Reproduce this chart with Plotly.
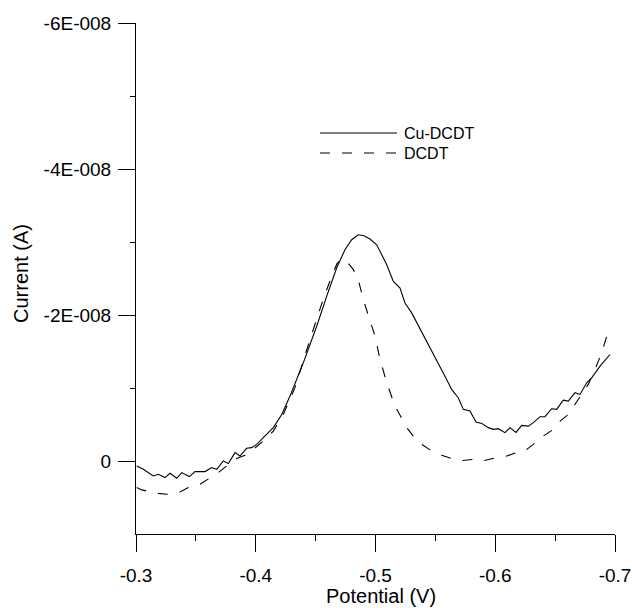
import plotly.graph_objects as go

# Potential (V) and current (units of 1E-008 A)
cu_potential = [-0.3006, -0.3061, -0.3144, -0.3186, -0.3242, -0.3284, -0.3340, -0.3382, -0.3445, -0.3493,
                -0.3576, -0.3632, -0.3674, -0.3729, -0.3771, -0.3827, -0.3868, -0.3924, -0.3966, -0.4008,
                -0.4063, -0.4147, -0.4217, -0.4286, -0.4397, -0.4439, -0.4509, -0.4592, -0.4676, -0.4745,
                -0.4801, -0.4856, -0.4904, -0.4954, -0.5010, -0.5094, -0.5149, -0.5205, -0.5246, -0.5302,
                -0.5399, -0.5497, -0.5580, -0.5636, -0.5691, -0.5733, -0.5789, -0.5839, -0.5887, -0.5942,
                -0.5984, -0.6025, -0.6081, -0.6123, -0.6173, -0.6221, -0.6276, -0.6318, -0.6374, -0.6415,
                -0.6471, -0.6513, -0.6568, -0.6610, -0.6666, -0.6708, -0.6764, -0.6805, -0.6875, -0.6958]
cu_current = [0.068, 0.113, 0.205, 0.182, 0.227, 0.168, 0.237, 0.159, 0.213, 0.145,
              0.145, 0.090, 0.113, 0.000, 0.036, -0.115, -0.068, -0.174, -0.183, -0.228,
              -0.320, -0.457, -0.638, -0.889, -1.345, -1.527, -1.846, -2.256, -2.648, -2.894,
              -3.031, -3.099, -3.085, -3.040, -2.962, -2.689, -2.461, -2.370, -2.165, -2.029,
              -1.732, -1.431, -1.162, -0.980, -0.867, -0.707, -0.684, -0.533, -0.515, -0.457,
              -0.433, -0.443, -0.388, -0.457, -0.392, -0.488, -0.478, -0.525, -0.607, -0.607,
              -0.716, -0.707, -0.834, -0.820, -0.935, -0.912, -1.072, -1.140, -1.299, -1.459]

dcdt_potential = [-0.3006, -0.3048, -0.3173, -0.3256, -0.3367, -0.3437, -0.3534, -0.3604, -0.3687, -0.3757,
                  -0.3841, -0.3910, -0.3980, -0.4063, -0.4147, -0.4230, -0.4328, -0.4453, -0.4562, -0.4634,
                  -0.4678, -0.4720, -0.4762, -0.4815, -0.4856, -0.4898, -0.4954, -0.4996, -0.5038, -0.5094,
                  -0.5163, -0.5219, -0.5261, -0.5316, -0.5386, -0.5469, -0.5553, -0.5636, -0.5720, -0.5817,
                  -0.5900, -0.6012, -0.6096, -0.6179, -0.6234, -0.6318, -0.6401, -0.6485, -0.6541, -0.6610,
                  -0.6652, -0.6722, -0.6777, -0.6833, -0.6889, -0.6931, -0.6958]
dcdt_current = [0.364, 0.396, 0.442, 0.455, 0.424, 0.364, 0.319, 0.241, 0.159, 0.068,
                -0.033, -0.078, -0.160, -0.273, -0.410, -0.638, -1.008, -1.664, -2.211, -2.529,
                -2.703, -2.771, -2.730, -2.621, -2.484, -2.211, -1.937, -1.709, -1.390, -1.072,
                -0.752, -0.593, -0.457, -0.342, -0.228, -0.137, -0.078, -0.033, -0.005, -0.023,
                -0.005, -0.046, -0.068, -0.115, -0.123, -0.228, -0.342, -0.433, -0.547, -0.638,
                -0.744, -0.912, -1.049, -1.254, -1.482, -1.709, -1.846]

current_unit = 1e-8

x_tick_vals = [-0.3, -0.4, -0.5, -0.6, -0.7]
x_tick_text = ["-0.3", "-0.4", "-0.5", "-0.6", "-0.7"]
x_minor_vals = [-0.35, -0.45, -0.55, -0.65]
y_tick_vals = [-6e-8, -4e-8, -2e-8, 0]
y_tick_text = ["-6E-008", "-4E-008", "-2E-008", "0"]
y_minor_vals = [-5e-8, -3e-8, -1e-8]

series_names = ["Cu-DCDT", "DCDT"]

FONT = "Liberation Sans, Arial, sans-serif"
DASH = "10px,12px"
W, H = 632, 608
ML, MR, MT, MB = 136, 17, 23, 74
PW, PH = W - ML - MR, H - MT - MB

fig = go.Figure()
fig.add_trace(go.Scatter(x=cu_potential, y=[v * current_unit for v in cu_current],
                         mode="lines", name=series_names[0],
                         line=dict(color="black", width=1.1), showlegend=False))
fig.add_trace(go.Scatter(x=dcdt_potential, y=[v * current_unit for v in dcdt_current],
                         mode="lines", name=series_names[1],
                         line=dict(color="black", width=1.1, dash=DASH), showlegend=False))

# manual legend (long line samples like the reference)
leg_x0, leg_x1, leg_tx = (320 - ML) / PW, (397 - ML) / PW, (402 - ML) / PW
leg_rows = [(H - MB - 133) / PH, (H - MB - 153) / PH]
for row_y, dash, name in zip(leg_rows, ["solid", DASH], series_names):
    fig.add_shape(type="line", xref="paper", yref="paper", x0=leg_x0, x1=leg_x1, y0=row_y, y1=row_y,
                  line=dict(color="black", width=1.1, dash=dash))
    fig.add_annotation(xref="paper", yref="paper", x=leg_tx, y=row_y, text=name, showarrow=False,
                       xanchor="left", yanchor="middle", font=dict(family=FONT, size=16, color="black"))

# axis titles as annotations for exact placement
fig.add_annotation(xref="paper", yref="paper", x=(380.5 - ML) / PW, y=(H - MB - 596) / PH,
                   text="Potential (V)", showarrow=False, xanchor="center", yanchor="middle",
                   font=dict(family=FONT, size=20, color="black"))
fig.add_annotation(xref="paper", yref="paper", x=(21 - ML) / PW, y=(H - MB - 274) / PH,
                   text="Current (A)", showarrow=False, xanchor="center", yanchor="middle", textangle=-90,
                   font=dict(family=FONT, size=20, color="black"))

fig.update_layout(
    width=W, height=H,
    margin=dict(l=ML, r=MR, t=MT, b=MB),
    paper_bgcolor="white", plot_bgcolor="white",
    font=dict(family=FONT, color="black"),
    showlegend=False,
)
fig.update_xaxes(
    range=[-0.3, -0.7], showgrid=False, zeroline=False, automargin=False,
    showline=True, linecolor="black", linewidth=1,
    tickmode="array", tickvals=x_tick_vals, ticktext=x_tick_text,
    ticks="outside", ticklen=17, tickcolor="black", tickwidth=1,
    ticklabelstandoff=7,
    tickfont=dict(family=FONT, size=19, color="black"),
    minor=dict(tickmode="array", tickvals=x_minor_vals, ticks="outside", ticklen=6,
               tickcolor="black", tickwidth=1, showgrid=False),
)
fig.update_yaxes(
    range=[1e-8, -6e-8], showgrid=False, zeroline=False, automargin=False,
    showline=True, linecolor="black", linewidth=1,
    tickmode="array", tickvals=y_tick_vals, ticktext=y_tick_text,
    ticks="outside", ticklen=17, tickcolor="black", tickwidth=1,
    ticklabelstandoff=3,
    tickfont=dict(family=FONT, size=19, color="black"),
    minor=dict(tickmode="array", tickvals=y_minor_vals, ticks="outside", ticklen=5,
               tickcolor="black", tickwidth=1, showgrid=False),
)

fig.write_html("out.html", post_script="document.body.style.margin='0';",
               config={"displayModeBar": False})
